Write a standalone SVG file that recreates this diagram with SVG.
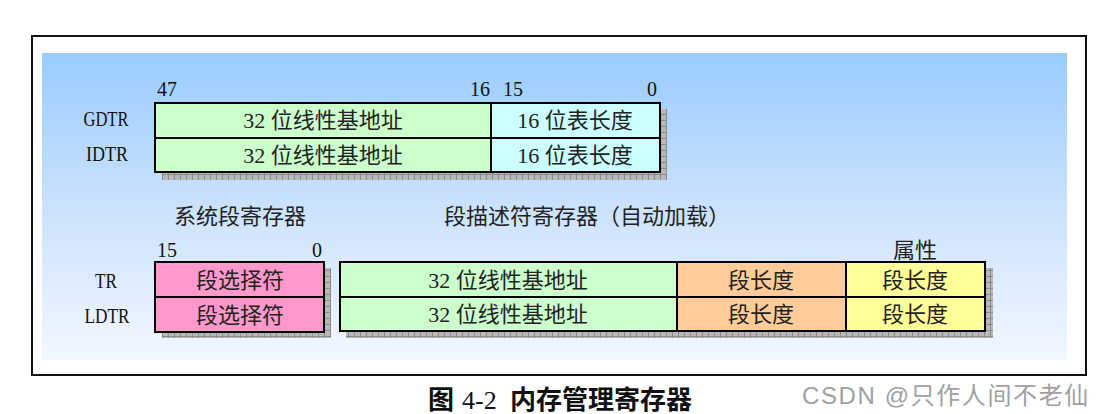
<svg xmlns="http://www.w3.org/2000/svg" width="1104" height="414" viewBox="0 0 1104 414">
<defs>
<linearGradient id="bg" x1="0" y1="0" x2="0" y2="1">
<stop offset="0" stop-color="#99ccff"/>
<stop offset="0.55" stop-color="#cfe4fc"/>
<stop offset="1" stop-color="#f2f7ff"/>
</linearGradient>
<pattern id="grid" width="6" height="6" patternUnits="userSpaceOnUse">
<rect width="6" height="6" fill="#b8b8b8"/>
<path d="M0 0.5H6M0.5 0V6" stroke="#8c8c8c" stroke-width="1" fill="none"/>
</pattern>
</defs>
<style>
.box{stroke:#000;stroke-width:2}
.sh{fill:url(#grid)}
.num{font-family:"Liberation Serif","DejaVu Serif",serif;font-size:20px;fill:#111}
.lbl{font-family:"Liberation Serif","DejaVu Serif",serif;font-size:20px;fill:#111}
.cn{font-family:"Liberation Serif","Noto Sans CJK SC",serif;font-size:22px;fill:#222;text-anchor:middle}
.cap{font-family:"Liberation Serif","Noto Sans CJK SC",serif;font-size:26px;fill:#111}
.wm{font-family:"Liberation Sans","Noto Sans CJK SC",sans-serif;font-size:24px;letter-spacing:1.6px;fill:#a0a0a0}
</style>
<rect x="0" y="0" width="1104" height="414" fill="#fff"/>
<rect x="32" y="36" width="1054" height="339" fill="#fff" stroke="#111" stroke-width="2"/>
<rect x="42" y="53" width="1025" height="307" fill="url(#bg)"/>

<g id="gdtr-idtr">
<rect class="sh" x="162" y="109" width="505" height="71"/>
<rect class="box" x="155" y="103" width="336" height="35" fill="#ccffcc"/>
<rect class="box" x="491" y="103" width="169" height="35" fill="#ccffff"/>
<rect class="box" x="155" y="138" width="336" height="34" fill="#ccffcc"/>
<rect class="box" x="491" y="138" width="169" height="34" fill="#ccffff"/>
<text class="cn" x="323" y="128">32 位线性基地址</text>
<text class="cn" x="575" y="128">16 位表长度</text>
<text class="cn" x="323" y="163">32 位线性基地址</text>
<text class="cn" x="575" y="163">16 位表长度</text>
<text class="lbl" x="106" y="126" text-anchor="middle" textLength="45" lengthAdjust="spacingAndGlyphs">GDTR</text>
<text class="lbl" x="107" y="161" text-anchor="middle" textLength="42" lengthAdjust="spacingAndGlyphs">IDTR</text>
<text class="num" x="157" y="96">47</text>
<text class="num" x="490" y="96" text-anchor="end">16</text>
<text class="num" x="503" y="96">15</text>
<text class="num" x="657" y="96" text-anchor="end">0</text>
</g>

<g id="sys-seg">
<text class="cn" x="240" y="224">系统段寄存器</text>
<rect class="sh" x="162" y="268" width="169" height="70"/>
<rect class="box" x="155" y="262" width="169" height="35" fill="#ff99cc"/>
<rect class="box" x="155" y="297" width="169" height="35" fill="#ff99cc"/>
<text class="cn" x="240" y="288">段选择符</text>
<text class="cn" x="240" y="323">段选择符</text>
<text class="lbl" x="106" y="288" text-anchor="middle" textLength="22" lengthAdjust="spacingAndGlyphs">TR</text>
<text class="lbl" x="107" y="323" text-anchor="middle" textLength="45" lengthAdjust="spacingAndGlyphs">LDTR</text>
<text class="num" x="157" y="257">15</text>
<text class="num" x="322" y="257" text-anchor="end">0</text>
</g>

<g id="desc-cache">
<text class="cn" x="587" y="224">段描述符寄存器（自动加载）</text>
<text class="cn" x="915" y="258">属性</text>
<rect class="sh" x="346" y="268" width="647" height="70"/>
<rect class="box" x="340" y="262" width="337" height="35" fill="#ccffcc"/>
<rect class="box" x="677" y="262" width="169" height="35" fill="#ffcc99"/>
<rect class="box" x="846" y="262" width="139" height="35" fill="#ffff99"/>
<rect class="box" x="340" y="297" width="337" height="34" fill="#ccffcc"/>
<rect class="box" x="677" y="297" width="169" height="34" fill="#ffcc99"/>
<rect class="box" x="846" y="297" width="139" height="34" fill="#ffff99"/>
<text class="cn" x="508" y="288">32 位线性基地址</text>
<text class="cn" x="761" y="288">段长度</text>
<text class="cn" x="915" y="288">段长度</text>
<text class="cn" x="508" y="322">32 位线性基地址</text>
<text class="cn" x="761" y="322">段长度</text>
<text class="cn" x="915" y="322">段长度</text>
</g>

<g id="connectors"></g>

<text class="cap" y="409"><tspan x="428" font-weight="bold">图</tspan><tspan x="462">4-2</tspan><tspan x="510" font-weight="bold">内存管理寄存器</tspan></text>
<text class="wm" x="802" y="404">CSDN @只作人间不老仙</text>
</svg>
